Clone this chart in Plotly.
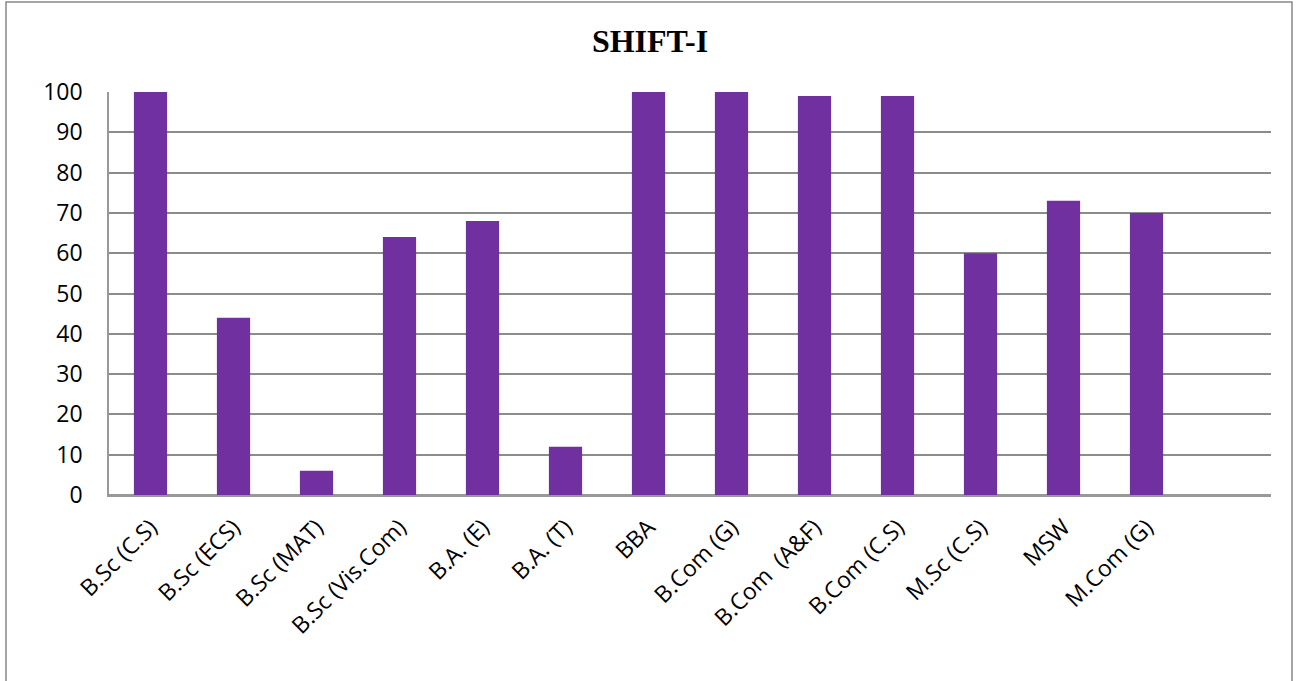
import plotly.graph_objects as go

categories = ["B.Sc (C.S)", "B.Sc (ECS)", "B.Sc (MAT)", "B.Sc (Vis.Com)", "B.A. (E)", "B.A. (T)",
              "BBA", "B.Com (G)", "B.Com  (A&F)", "B.Com (C.S)", "M.Sc (C.S)", "MSW", "M.Com (G)"]
values = [100, 44, 6, 64, 68, 12, 100, 100, 99, 99, 60, 73, 70]
y_ticks = [0, 10, 20, 30, 40, 50, 60, 70, 80, 90, 100]

W, H = 1298, 681
L, T = 109, 92
R = W - 1271
B = H - 495
pw, ph = W - L - R, H - T - B

fig = go.Figure()
fig.add_trace(go.Bar(x=categories, y=values, marker=dict(color="#7030A0", line=dict(width=0)),
                     width=0.4, hoverinfo="x+y"))

tick_font = dict(family="Open Sans, Lato, sans-serif", size=23, color="black")

fig.update_layout(
    width=W, height=H,
    margin=dict(l=L, r=R, t=T, b=B),
    paper_bgcolor="white", plot_bgcolor="white",
    showlegend=False,
    title=dict(text="<b>SHIFT-I</b>", x=650 / W, xref="container", xanchor="center",
               y=1 - 41 / H, yref="container", yanchor="middle",
               font=dict(family="Liberation Serif, Times New Roman, serif", size=32, color="black")),
    xaxis=dict(type="category", range=[-0.5, 13.5], tickangle=-45,
               tickfont=tick_font,
               showgrid=False, showline=True, linecolor="#999999", linewidth=1.5,
               ticks="", ticklabelstandoff=8, fixedrange=True),
    yaxis=dict(range=[0, 100], tickvals=y_ticks, ticktext=[str(v) for v in y_ticks],
               tickfont=tick_font,
               showgrid=True, gridcolor="#8c8c8c", gridwidth=1.5,
               zeroline=True, zerolinecolor="#999999", zerolinewidth=1.5,
               showline=True, linecolor="#999999", linewidth=1.5, ticks="", ticklabelstandoff=20),
    shapes=[dict(type="rect", xref="paper", yref="paper",
                 x0=(6 - L) / pw, x1=(1292 - L) / pw,
                 y0=-(B + 20) / ph, y1=(H - B - 2) / ph,
                 line=dict(color="#888888", width=1.5), fillcolor="rgba(0,0,0,0)", layer="below")],
)

fig.write_html("out.html", config={"displayModeBar": False},
               post_script="document.body.style.margin='0';document.body.style.overflow='hidden';")
